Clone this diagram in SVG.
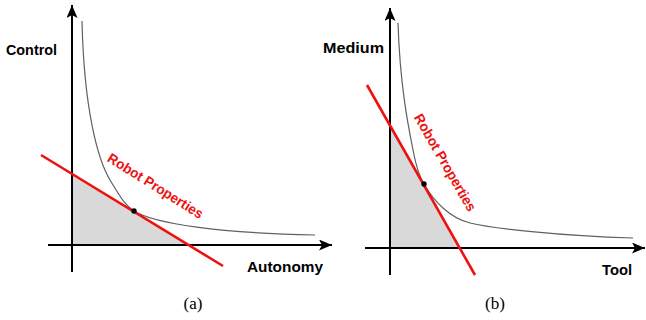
<svg xmlns="http://www.w3.org/2000/svg" width="646" height="320" viewBox="0 0 646 320">
<defs>
<style>
.fill{fill:#d9d9d9;stroke:none}
.axis{stroke:#000;stroke-width:2;fill:none}
.curve{stroke:#606060;stroke-width:1.2;fill:none}
.red{stroke:#ee1111;stroke-width:2.6;fill:none}
.dot{fill:#000}
.lbl{font-family:"Liberation Sans",Arial,sans-serif;font-weight:bold;font-size:15px;fill:#000}
.rp{font-family:"Liberation Sans",Arial,sans-serif;font-weight:bold;font-size:14px;fill:#ee1111}
.cap{font-family:"Liberation Serif","Times New Roman",serif;font-size:17px;fill:#000}
</style>
<marker id="arr" markerUnits="userSpaceOnUse" markerWidth="14" markerHeight="12" refX="13" refY="5.5" orient="auto">
<path d="M0,0 L13,5.5 L0,11 L3,5.5 Z" fill="#000"/>
</marker>
</defs>
<g id="panel-a">
<polygon class="fill" points="72,174 72,245 189,245"/>
<g id="connectors-a">
<line class="axis" x1="72" y1="272" x2="72" y2="5" marker-end="url(#arr)"/>
<line class="axis" x1="48" y1="245" x2="332" y2="245" marker-end="url(#arr)"/>
<path class="curve" d="M82,21 C84,110 98,160 110,180 C122,200 126,206 134,211 C155,224 220,233 315,235"/>
<line class="red" x1="41" y1="155" x2="223" y2="266"/>
</g>
<circle class="dot" cx="134" cy="211" r="2.7"/>
<text class="lbl" x="6" y="55" textLength="51" lengthAdjust="spacingAndGlyphs">Control</text>
<text class="lbl" x="247" y="272" textLength="76" lengthAdjust="spacingAndGlyphs">Autonomy</text>
<text class="rp" x="0" y="0" text-anchor="middle" transform="translate(153,190) rotate(32)" textLength="110" lengthAdjust="spacingAndGlyphs">Robot Properties</text>
<text class="cap" x="193" y="309" text-anchor="middle">(a)</text>
</g>
<g id="panel-b">
<polygon class="fill" points="390,124 390,248 459,248"/>
<g id="connectors-b">
<line class="axis" x1="390" y1="275" x2="390" y2="8" marker-end="url(#arr)"/>
<line class="axis" x1="365" y1="248" x2="645" y2="248" marker-end="url(#arr)"/>
<path class="curve" d="M398,23 C400,85 408,125 413,150 C416,166 419,176 424,184 C434,201.6 450,218 470,223 C490,228 560,236 633,238"/>
<line class="red" x1="367" y1="85" x2="475" y2="275"/>
</g>
<circle class="dot" cx="424" cy="184" r="2.7"/>
<text class="lbl" x="323" y="53" textLength="61" lengthAdjust="spacingAndGlyphs">Medium</text>
<text class="lbl" x="602" y="275" textLength="30" lengthAdjust="spacingAndGlyphs">Tool</text>
<text class="rp" x="0" y="0" text-anchor="middle" transform="translate(441,165) rotate(60)" textLength="110" lengthAdjust="spacingAndGlyphs">Robot Properties</text>
<text class="cap" x="495" y="309" text-anchor="middle">(b)</text>
</g>
</svg>
